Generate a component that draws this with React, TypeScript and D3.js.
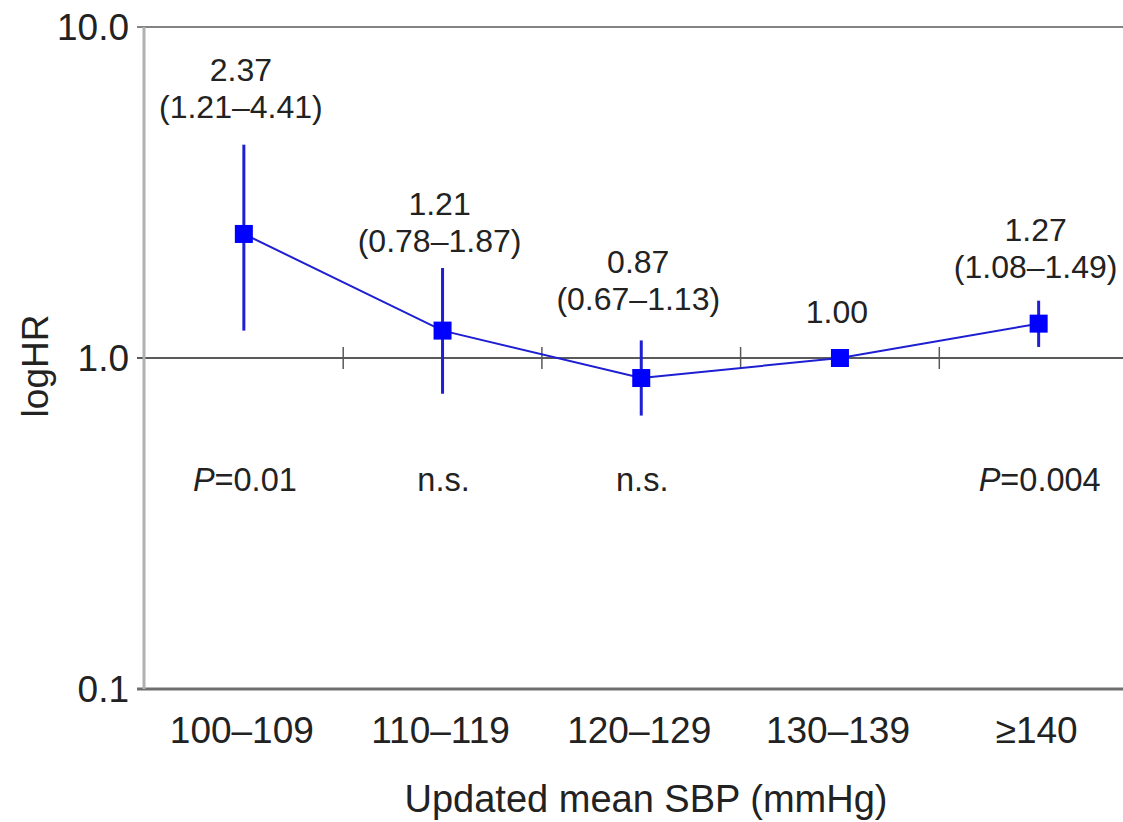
import React from "react";
import * as d3 from "d3";

const categories = ["100–109", "110–119", "120–129", "130–139", "≥140"];
const hr = [2.37, 1.21, 0.87, 1.0, 1.27];
const lower = [1.21, 0.78, 0.67, 1.0, 1.08];
const upper = [4.41, 1.87, 1.13, 1.0, 1.49];
const hrLabels = ["2.37", "1.21", "0.87", "1.00", "1.27"];
const ciLabels = ["(1.21–4.41)", "(0.78–1.87)", "(0.67–1.13)", "", "(1.08–1.49)"];
const pLabels: { italic: string; rest: string }[] = [
  { italic: "P", rest: "=0.01" },
  { italic: "", rest: "n.s." },
  { italic: "", rest: "n.s." },
  { italic: "", rest: "" },
  { italic: "P", rest: "=0.004" },
];
const yTicks = [10, 1, 0.1];
const yTickLabels = ["10.0", "1.0", "0.1"];

// layout (pixel offsets of annotation above upper whisker)
const labelLift = [27, 16, 30, 35, 23];

const W = 1123;
const H = 822;
const FONT = "'Liberation Sans', Arial, Helvetica, sans-serif";

export default function App() {
  const y = d3.scaleLog().domain([0.1, 10]).range([689, 27]);
  const x = d3.scaleBand<string>().domain(categories).range([144.5, 1138]).paddingInner(0).paddingOuter(0);
  const cx = (i: number) => (x(categories[i]) as number) + x.bandwidth() / 2;

  const line = d3
    .line<number>()
    .x((_, i) => cx(i))
    .y((d) => y(d));

  const axisLeft = 144;
  const lineGrey = "#5a5a5a";
  const blue = "#0000ff";
  const lineBlue = "#1e1ed2";

  return (
    <svg width={W} height={H} style={{ position: "absolute", left: 0, top: 0, background: "#fff" }} fontFamily={FONT}>
      {/* horizontal reference lines */}
      <line x1={137} x2={W} y1={y(10)} y2={y(10)} stroke={lineGrey} strokeWidth={1.6} />
      <line x1={137} x2={W} y1={y(1)} y2={y(1)} stroke={lineGrey} strokeWidth={1.8} />
      <line x1={137} x2={W} y1={y(0.1)} y2={y(0.1)} stroke="#6e6e6e" strokeWidth={3} />
      {/* y axis */}
      <line x1={axisLeft} x2={axisLeft} y1={y(10)} y2={y(0.1)} stroke="#b0b0b0" strokeWidth={3} />
      {/* category boundary ticks on y=1 line */}
      {categories.slice(1).map((c) => (
        <line key={c} x1={x(c) as number} x2={x(c) as number} y1={y(1) - 11} y2={y(1) + 11} stroke={lineGrey} strokeWidth={1.5} />
      ))}
      {/* y tick labels */}
      {yTicks.map((t, i) => (
        <text key={t} x={129} y={y(t) + 13} textAnchor="end" fontSize={37} fill="#222">
          {yTickLabels[i]}
        </text>
      ))}
      {/* x category labels */}
      {categories.map((c, i) => (
        <text key={c} x={cx(i) - 2} y={743} textAnchor="middle" fontSize={37} fill="#222">
          {c}
        </text>
      ))}
      {/* axis titles */}
      <text x={646} y={812} textAnchor="middle" fontSize={38} fill="#222">
        Updated mean SBP (mmHg)
      </text>
      <text transform={`translate(48,366) rotate(-90)`} textAnchor="middle" fontSize={37} fill="#222">
        logHR
      </text>
      {/* error bars */}
      {hr.map((_, i) =>
        upper[i] !== lower[i] ? (
          <line key={i} x1={cx(i)} x2={cx(i)} y1={y(lower[i])} y2={y(upper[i])} stroke={lineBlue} strokeWidth={3} />
        ) : null
      )}
      {/* connecting line */}
      <path d={line(hr) as string} fill="none" stroke={lineBlue} strokeWidth={2} />
      {/* markers */}
      {hr.map((v, i) => (
        <rect key={i} x={cx(i) - 9} y={y(v) - 9} width={18} height={18} fill={blue} />
      ))}
      {/* annotations */}
      {hr.map((_, i) => {
        const base = y(upper[i]) - labelLift[i];
        const hasCi = ciLabels[i] !== "";
        return (
          <g key={i} fontSize={32} fill="#222" textAnchor="middle">
            <text x={cx(i) - 3} y={hasCi ? base - 37 : base}>{hrLabels[i]}</text>
            {hasCi && (
              <text x={cx(i) - 3} y={base}>
                {ciLabels[i]}
              </text>
            )}
          </g>
        );
      })}
      {/* p labels */}
      {pLabels.map((p, i) => (
        <text key={i} x={cx(i) + 1} y={491} textAnchor="middle" fontSize={32.5} fill="#222">
          {p.italic && <tspan fontStyle="italic">{p.italic}</tspan>}
          {p.rest}
        </text>
      ))}
    </svg>
  );
}
